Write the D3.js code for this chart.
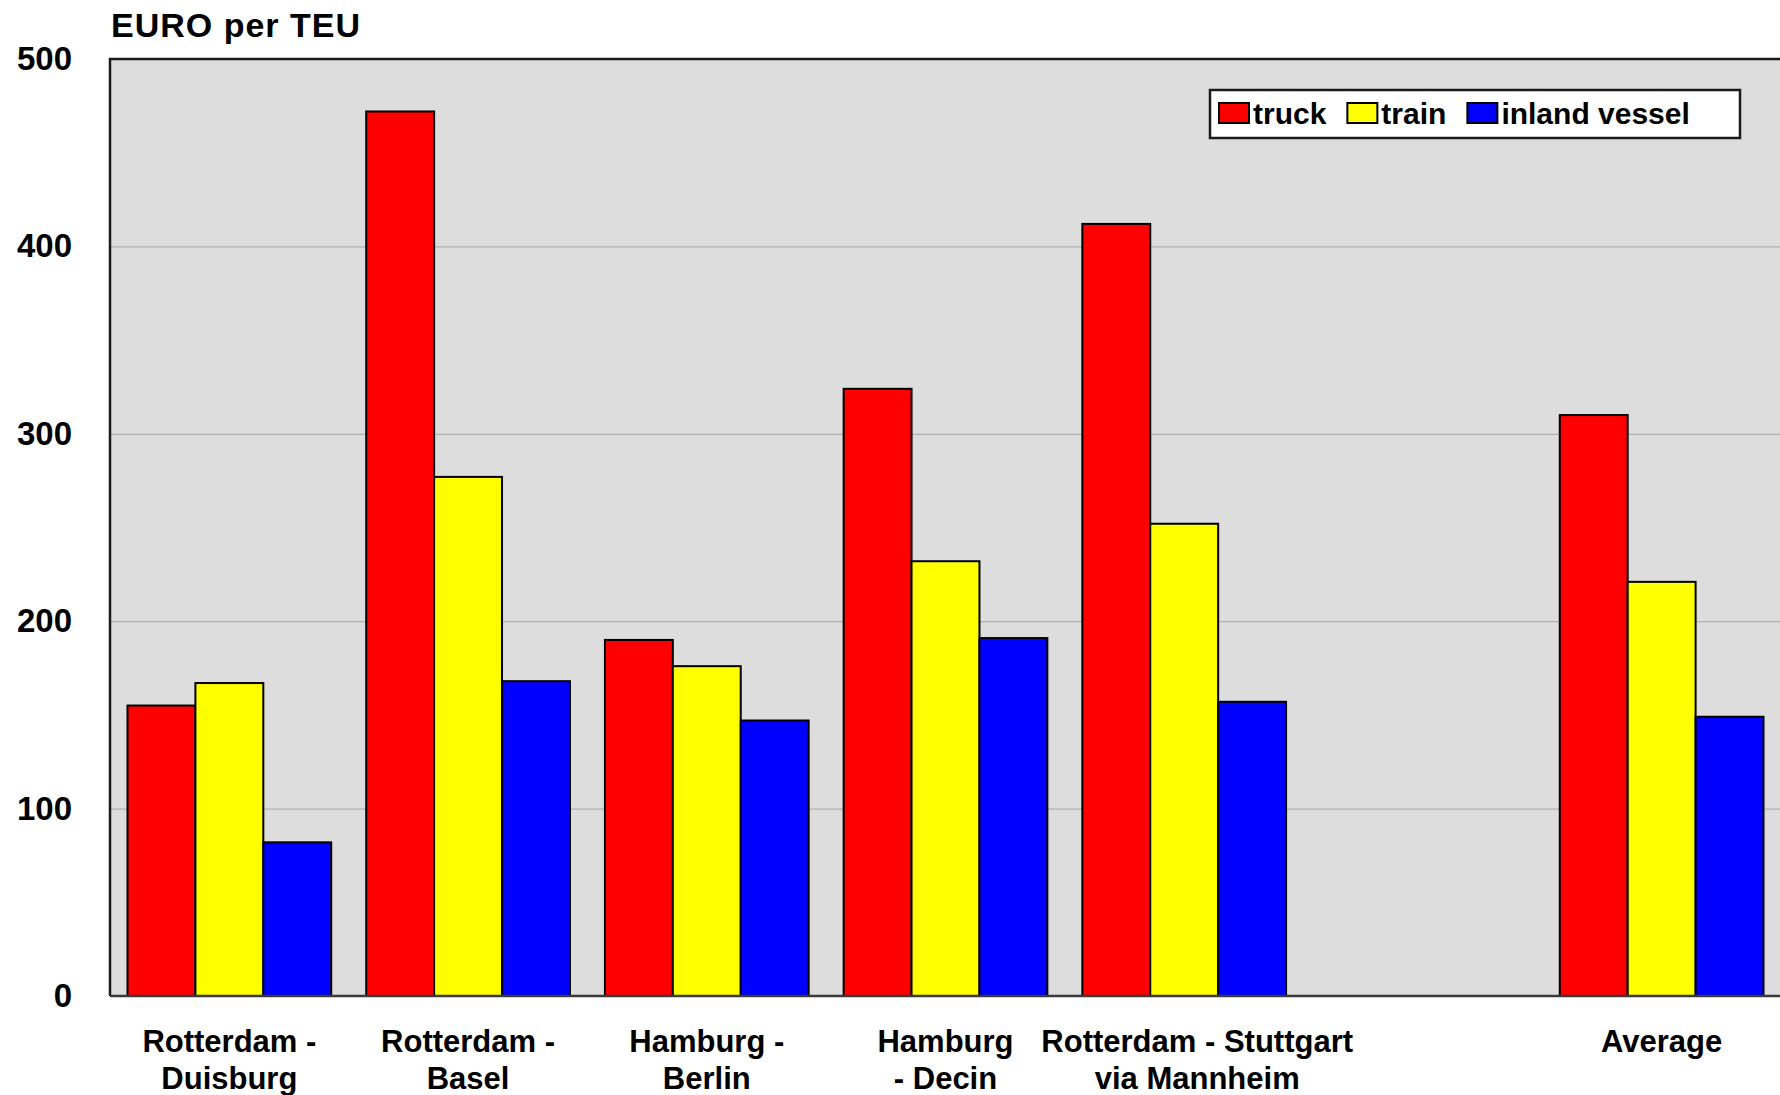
<!DOCTYPE html>
<html>
<head>
<meta charset="utf-8">
<script src="https://cdn.jsdelivr.net/npm/d3@7"></script>
<style>
  html, body { margin: 0; padding: 0; background: #ffffff; }
  svg { display: block; font-family: "Liberation Sans", Arial, sans-serif; font-weight: bold; }
</style>
</head>
<body>
<svg id="chart" width="1780" height="1095"></svg>
<script>
// Route categories (the empty slot keeps the gap before "Average")
const categories = ["Rotterdam - Duisburg", "Rotterdam - Basel", "Hamburg - Berlin", "Hamburg - Decin", "Rotterdam - Stuttgart via Mannheim", "", "Average"];
const categoryLines = [["Rotterdam -", "Duisburg"], ["Rotterdam -", "Basel"], ["Hamburg -", "Berlin"], ["Hamburg", "- Decin"], ["Rotterdam - Stuttgart", "via Mannheim"], [], ["Average"]];

// Cost per TEU for each mode
const seriesNames = ["truck", "train", "inland vessel"];
const truck = [155, 472, 190, 324, 412, null, 310];
const train = [167, 277, 176, 232, 252, null, 221];
const inlandVessel = [82, 168, 147, 191, 157, null, 149];
const seriesValues = [truck, train, inlandVessel];
const seriesColors = ["#ff0000", "#ffff00", "#0000ff"];

const yTicks = [0, 100, 200, 300, 400, 500];
const yTitle = "EURO per TEU";

const svg = d3.select("#chart");
const plot = { left: 110, right: 1781, top: 59, bottom: 996 };

const x = d3.scaleBand().domain(categories).range([plot.left, plot.right])
  .paddingInner(0.1466).paddingOuter(0.0733);
const xs = d3.scaleBand().domain(seriesNames).range([0, x.bandwidth()]);
const y = d3.scaleLinear().domain([0, 500]).range([plot.bottom, plot.top]);
const color = d3.scaleOrdinal().domain(seriesNames).range(seriesColors);

// Plot background
svg.append("rect")
  .attr("x", plot.left).attr("y", plot.top)
  .attr("width", plot.right - plot.left).attr("height", plot.bottom - plot.top)
  .attr("fill", "#dddddd");

// Horizontal gridlines
const grid = svg.append("g").attr("transform", `translate(${plot.left},0)`)
  .call(d3.axisLeft(y).tickValues(yTicks.filter(v => v > 0 && v < 500))
    .tickSize(-(plot.right - plot.left)).tickFormat(""));
grid.select(".domain").remove();
grid.selectAll("line").attr("stroke", "#b0b0b0").attr("stroke-width", 1.2);

// Bars
const rows = categories.map((c, i) => ({ cat: c, values: seriesNames.map((s, j) => ({ series: s, value: seriesValues[j][i] })) }));
svg.append("g").selectAll("g").data(rows).join("g")
  .attr("transform", d => `translate(${x(d.cat)},0)`)
  .selectAll("rect").data(d => d.values.filter(v => v.value != null)).join("rect")
  .attr("x", d => xs(d.series))
  .attr("y", d => y(d.value))
  .attr("width", xs.bandwidth())
  .attr("height", d => y(0) - y(d.value))
  .attr("fill", d => color(d.series))
  .attr("stroke", "#000000")
  .attr("stroke-width", 2);

// Plot frame: left and top edges, baseline
svg.append("path")
  .attr("d", `M${plot.left},${plot.bottom}V${plot.top}H${plot.right}`)
  .attr("fill", "none").attr("stroke", "#1a1a1a").attr("stroke-width", 2.5);
svg.append("line")
  .attr("x1", plot.left).attr("x2", plot.right)
  .attr("y1", plot.bottom).attr("y2", plot.bottom)
  .attr("stroke", "#3a3a3a").attr("stroke-width", 2.5);

// Y axis labels
const yAxis = svg.append("g").attr("transform", `translate(${plot.left},0)`)
  .call(d3.axisLeft(y).tickValues(yTicks).tickSize(0).tickPadding(38));
yAxis.select(".domain").remove();
yAxis.selectAll("text")
  .attr("font-family", "Liberation Sans, Arial, sans-serif")
  .attr("font-weight", "bold").attr("font-size", 33).attr("fill", "#000");

// Y axis title
svg.append("text").attr("x", 111).attr("y", 37)
  .attr("font-size", 34).attr("letter-spacing", 1).attr("fill", "#000")
  .text(yTitle);

// Category labels; the long Stuttgart label sits a little right of its bars
const xl = svg.append("g");
categories.forEach((c, i) => {
  const shift = i === 4 ? 13 : 0;
  const t = xl.append("text")
    .attr("text-anchor", "middle")
    .attr("font-size", 31).attr("fill", "#000");
  categoryLines[i].forEach((line, k) => {
    t.append("tspan")
      .attr("x", x(c) + x.bandwidth() / 2 + shift)
      .attr("y", 1052 + k * 37)
      .text(line);
  });
});

// Legend
const legend = svg.append("g");
legend.append("rect").attr("x", 1210).attr("y", 90).attr("width", 530).attr("height", 48)
  .attr("fill", "#ffffff").attr("stroke", "#1a1a1a").attr("stroke-width", 2.5);
let lx = 1219;
seriesNames.forEach(s => {
  legend.append("rect").attr("x", lx).attr("y", 103).attr("width", 30).attr("height", 20)
    .attr("fill", color(s)).attr("stroke", "#000").attr("stroke-width", 2);
  const t = legend.append("text").attr("x", lx + 34).attr("y", 124)
    .attr("font-size", 30).attr("fill", "#000").text(s);
  lx += 34 + t.node().getComputedTextLength() + 21;
});
</script>
</body>
</html>
